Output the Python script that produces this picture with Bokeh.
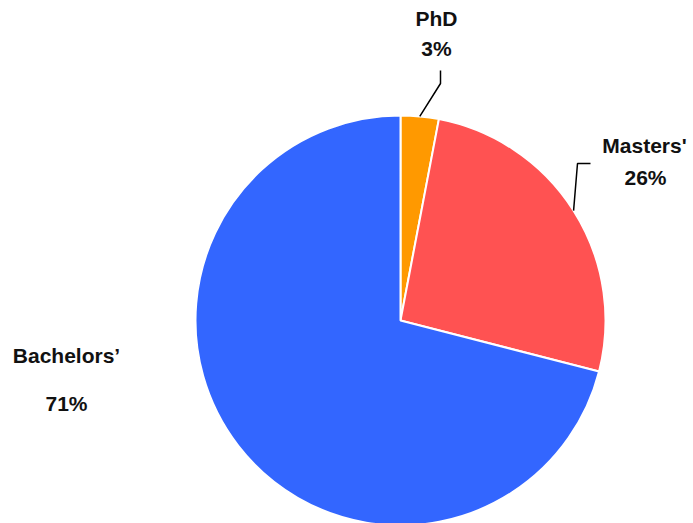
import math

from bokeh.core.properties import value
from bokeh.embed import file_html
from bokeh.models import ColumnDataSource, Range1d
from bokeh.plotting import figure
from bokeh.resources import INLINE

# Share of degrees by level
categories = ["PhD", "Masters'", "Bachelors\u2019"]
shares = [3, 26, 71]
colors = ["#FF9900", "#FF5252", "#3366FF"]

W, H = 693, 523
CX, CY, R = 400, 320, 205  # pie centre and radius in page pixels (y from top)


def fy(y):
    """Page y (from top) to plot y (from bottom)."""
    return H - y


p = figure(width=W, height=H, output_backend="svg", toolbar_location=None,
           x_range=Range1d(0, W), y_range=Range1d(0, H), min_border=0)
p.axis.visible = False
p.grid.visible = False
p.outline_line_color = None
p.background_fill_color = "white"
p.border_fill_color = "white"

# Slices go clockwise from twelve o'clock
total = float(sum(shares))
starts, ends, mids = [], [], []
acc = 0.0
for s in shares:
    a0 = math.pi / 2 - 2 * math.pi * acc / total
    acc += s
    a1 = math.pi / 2 - 2 * math.pi * acc / total
    starts.append(a0)
    ends.append(a1)
    mids.append((a0 + a1) / 2)

src = ColumnDataSource(dict(start=starts, end=ends, color=colors, label=categories))
p.wedge(x=CX, y=fy(CY), radius=R, start_angle="start", end_angle="end",
        direction="clock", fill_color="color", line_color="white", line_width=2,
        source=src)

# Leader lines from the slice edge to the small labels
def edge_point(angle):
    return CX + R * math.cos(angle), fy(CY) + R * math.sin(angle)

x0, y0 = edge_point(mids[0])
p.line([x0, 440, 440], [y0, fy(83), fy(70)], line_color="black", line_width=1.5)
x1, y1 = edge_point(mids[1])
p.line([x1, 577, 590], [y1, fy(163), fy(163)], line_color="black", line_width=1.5)

# Labels
pct = [f"{s}%" for s in shares]
lab_x = [436, 644, 66]
name_y = [18, 145, 355]
pct_y = [48, 177, 403]
pct_x = [436, 645, 66]

font = value("Liberation Sans")
p.text(x=lab_x, y=[fy(v) for v in name_y], text=categories, text_font=font,
       text_font_style="bold", text_font_size="21px", text_color="#111111",
       text_align="center", text_baseline="middle")
p.text(x=pct_x, y=[fy(v) for v in pct_y], text=pct, text_font=font,
       text_font_style="bold", text_font_size="21px", text_color="#111111",
       text_align="center", text_baseline="middle")

open("out.html", "w").write(file_html(p, INLINE))
